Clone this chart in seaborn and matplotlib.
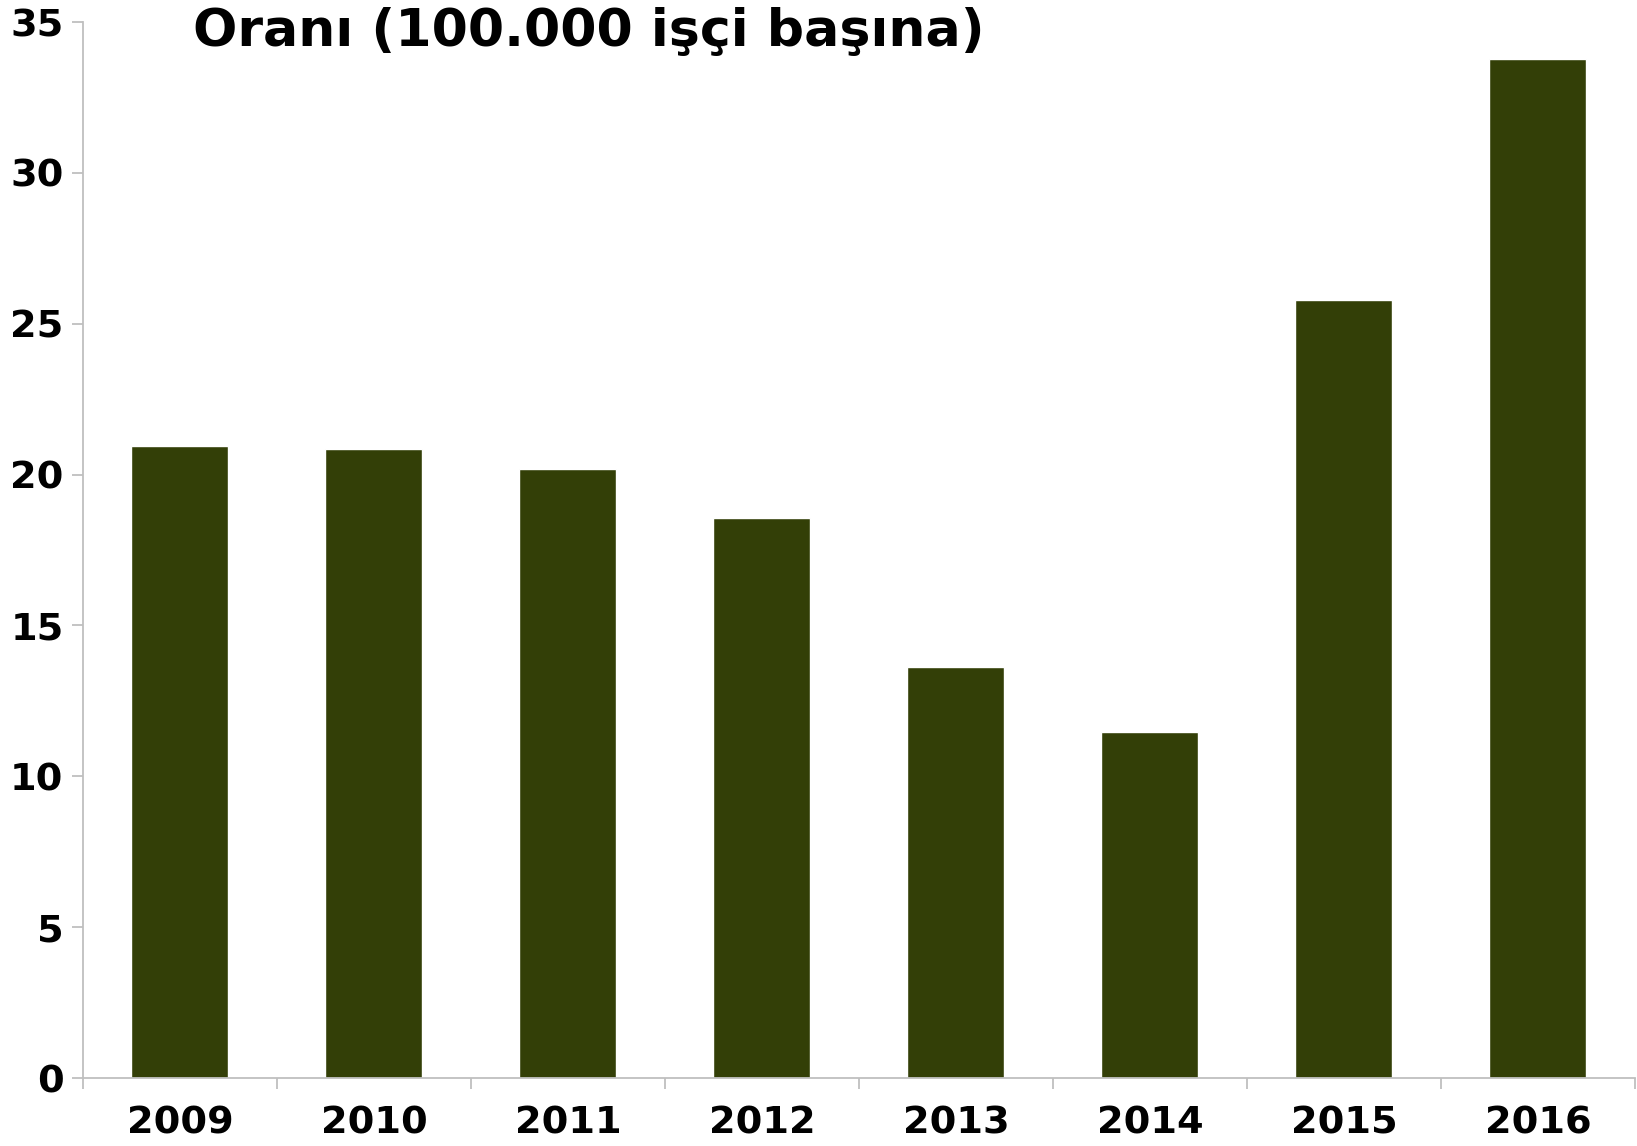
import numpy as np
import pandas as pd
import seaborn as sns
import matplotlib.pyplot as plt

# Oranı (100.000 işçi başına)
years = ["2009", "2010", "2011", "2012", "2013", "2014", "2015", "2016"]
rates = [20.96, 20.86, 20.17, 18.57, 13.62, 11.47, 25.78, 33.78]
y_ticks = [0, 5, 10, 15, 20, 25, 30, 35]
title = "Oranı (100.000 işçi başına)"

bar_color = "#333F07"
axis_gray = "#BFBFBF"

sns.set_style("ticks")
plt.rcParams["font.family"] = ["DejaVu Sans"]
plt.rcParams["text.color"] = "black"

df = pd.DataFrame({"yil": years, "oran": rates})

fig = plt.figure(figsize=(16.37, 11.46), dpi=100)
ax = fig.add_axes([0.0507, 0.0593, 0.948, 0.9215])

sns.barplot(data=df, x="yil", y="oran", color=bar_color, width=0.5,
            saturation=1, ax=ax)

ax.set_xlim(-0.5, len(years) - 0.5)
ax.set_ylim(0, 35)
ax.set_yticks(y_ticks)
ax.set_xticks(np.arange(-0.5, len(years), 1), minor=True)
ax.set_xlabel("")
ax.set_ylabel("")

sns.despine(ax=ax)
for side in ["left", "bottom"]:
    ax.spines[side].set_color(axis_gray)
    ax.spines[side].set_linewidth(1.3)

ax.tick_params(axis="x", which="major", length=0, pad=19.5, labelsize=27.5,
               labelcolor="black")
ax.tick_params(axis="x", which="minor", length=8, width=1.3, color=axis_gray,
               direction="out")
ax.tick_params(axis="y", length=8, width=1.3, color=axis_gray, pad=6,
               labelsize=27.5, labelcolor="black", direction="out")
for lbl in ax.get_xticklabels() + ax.get_yticklabels():
    lbl.set_fontweight("bold")

fig.text(193 / 1637, 1 - 46 / 1146, title, fontsize=37.5, fontweight="bold",
         color="black", ha="left", va="baseline")

fig.savefig("out.png", dpi=100)
